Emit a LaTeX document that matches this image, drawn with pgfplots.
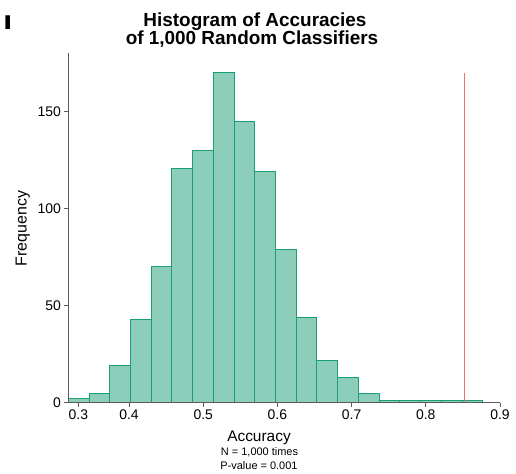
\documentclass[border=0pt]{standalone}
\usepackage{pgfplots}
\pgfplotsset{compat=1.18}
\usepackage{fontspec}
\setmainfont{Liberation Sans}
\definecolor{barc}{HTML}{1B9E77}
\definecolor{axc}{HTML}{5A5A5A}
\definecolor{redl}{HTML}{F07070}
\begin{document}
\begin{tikzpicture}
\useasboundingbox (0,0) rectangle (516bp,474bp);
\begin{axis}[
  at={(68.3bp,71.3bp)}, anchor=south west,
  scale only axis, width=431.7bp, height=349.7bp,
  xmin=0.3182, xmax=0.9, ymin=0, ymax=180.3,
  axis x line*=bottom, axis y line*=left,
  axis line style={axc, line width=1.5bp},
  axis on top,
  tick align=outside, major tick length=4bp,
  tick style={axc, line width=0.8bp},
  xtick={0.3317,0.4,0.5,0.6,0.7,0.8,0.9},
  xticklabels={0.3,0.4,0.5,0.6,0.7,0.8,0.9},
  ytick={0,50,100,150},
  minor tick num=0,
  ticklabel style={font=\fontsize{14}{16}\selectfont, text=black},
  /pgf/number format/assume math mode=true,
  clip=false,
]
\addplot[ybar interval, fill=barc, fill opacity=0.5, draw=barc, draw opacity=1, line width=1bp]
coordinates {
(0.3182,2) (0.3461,5) (0.3740,19) (0.4020,43) (0.4299,70)
(0.4578,121) (0.4858,130) (0.5137,170) (0.5416,145) (0.5695,119)
(0.5975,79) (0.6254,44) (0.6533,22) (0.6813,13) (0.7092,5)
(0.7371,1) (0.7650,1) (0.7930,1) (0.8209,1) (0.8488,1) (0.8767,1)
};
\addplot[redl, line width=1bp] coordinates {(0.852,0) (0.852,170)};
\end{axis}
\node[anchor=base, inner sep=0, font=\bfseries\fontsize{19}{20}\selectfont] at (255bp,447.5bp) {Histogram of Accuracies};
\node[anchor=base, inner sep=0, font=\bfseries\fontsize{19}{20}\selectfont] at (252bp,429bp) {of 1,000 Random Classifiers};
\node[anchor=base west, inner sep=0, font=\bfseries\fontsize{20}{22}\selectfont, xscale=1.6] at (3bp,444bp) {I};
\node[rotate=90, anchor=base, inner sep=0, font=\fontsize{16}{18}\selectfont] at (26.6bp,245.5bp) {Frequency};
\node[anchor=base, inner sep=0, font=\fontsize{15.5}{17}\selectfont] at (259bp,33bp) {Accuracy};
\node[anchor=base, inner sep=0, font=\fontsize{11}{13}\selectfont] at (259.5bp,18.3bp) {N = 1,000 times};
\node[anchor=base, inner sep=0, font=\fontsize{11}{13}\selectfont] at (259bp,5bp) {P-value = 0.001};
\end{tikzpicture}
\end{document}
